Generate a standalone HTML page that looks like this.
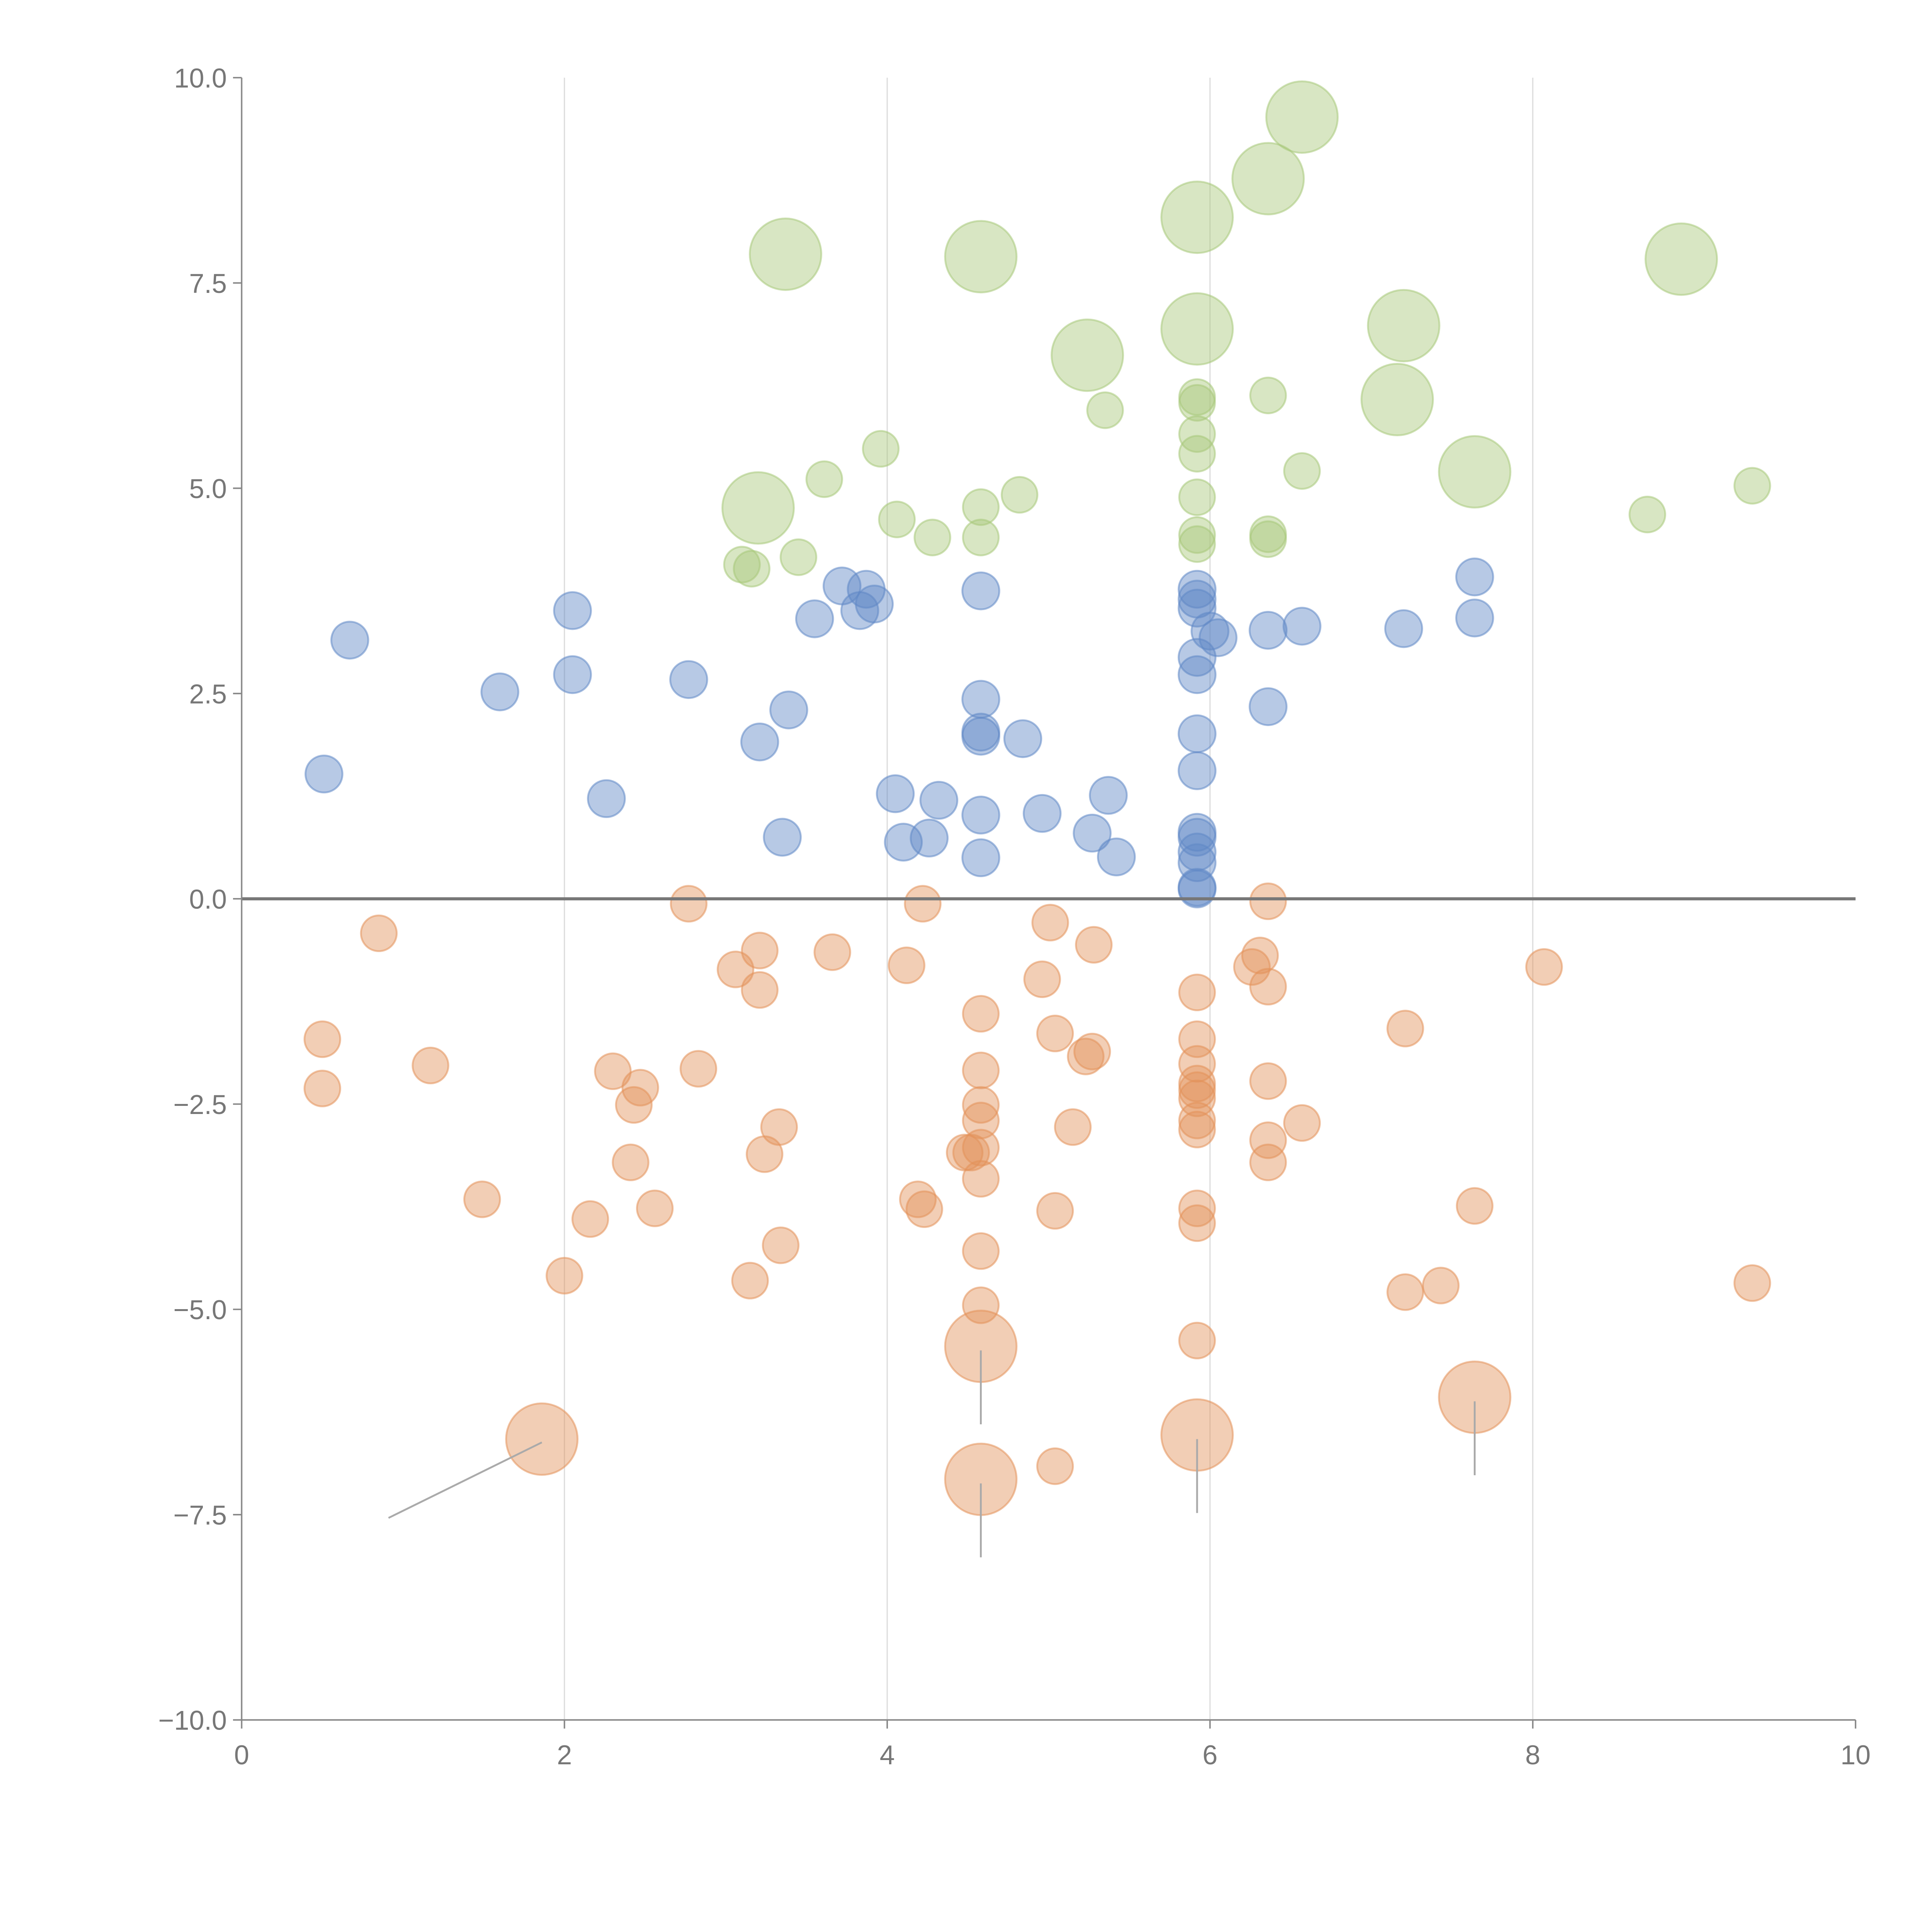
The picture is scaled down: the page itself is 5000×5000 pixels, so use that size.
<!DOCTYPE html>
<html><head><meta charset="utf-8"><style>
html,body{margin:0;padding:0;background:#fff;}
svg{display:block;}
text{font-family:"Liberation Sans",sans-serif;}
</style></head><body>
<svg id="chart" width="5000" height="5000" viewBox="0 0 1567 1567" xmlns="http://www.w3.org/2000/svg"></svg>
<script>
const xTicks=[0,2,4,6,8,10];
const xTickLabels=["0","2","4","6","8","10"];
const yTicks=[10,7.5,5,2.5,0,-2.5,-5,-7.5,-10];
const yTickLabels=["10.0","7.5","5.0","2.5","0.0","\u22122.5","\u22125.0","\u22127.5","\u221210.0"];

const greenBigX=[3.37,4.58,5.92,6.36,6.57,5.24,5.92,7.20,7.16,7.64,8.92,3.20];
const greenBigY=[7.85,7.82,8.30,8.77,9.52,6.62,6.94,6.98,6.08,5.20,7.79,4.76];
const greenX=[3.96,3.61,4.06,4.28,4.58,4.58,4.82,5.35,5.92,5.92,5.92,5.92,5.92,5.92,5.92,6.36,6.57,6.36,6.36,8.71,9.36,3.10,3.16,3.45];
const greenY=[5.48,5.11,4.62,4.40,4.77,4.40,4.92,5.95,6.04,6.11,5.66,5.42,4.89,4.43,4.32,6.13,5.21,4.44,4.38,4.68,5.03,4.07,4.02,4.16];

const blueX=[0.67,0.51,1.60,2.05,2.05,2.26,2.77,3.21,3.39,3.35,3.55,3.72,3.83,3.87,3.92,4.05,4.10,4.26,4.32,4.58,4.58,4.58,4.58,4.58,4.58,4.84,4.96,5.27,5.37,5.42,5.92,5.92,5.92,5.92,5.92,5.92,5.92,5.92,5.92,5.92,5.92,5.92,5.92,6.00,6.05,6.36,6.36,6.57,7.20,7.64,7.64];
const blueY=[3.15,1.52,2.52,3.51,2.73,1.22,2.67,1.91,2.30,0.75,3.41,3.81,3.51,3.77,3.59,1.28,0.69,0.74,1.20,3.75,2.43,2.03,1.98,1.02,0.50,1.95,1.04,0.80,1.26,0.51,3.77,3.65,3.54,2.94,2.73,2.01,1.56,0.81,0.75,0.57,0.44,0.14,0.12,3.26,3.18,3.27,2.34,3.32,3.29,3.92,3.42];

const orangeX=[0.85,0.50,0.50,1.17,1.49,2.00,2.16,2.30,2.47,2.43,2.41,2.56,2.77,2.83,3.06,3.21,3.21,3.15,3.24,3.33,3.34,3.66,4.12,4.22,4.19,4.23,4.48,4.52,4.58,4.58,4.58,4.58,4.58,4.58,4.58,4.58,5.01,4.96,5.04,5.15,5.04,5.23,5.27,5.28,5.04,5.92,5.92,5.92,5.92,5.92,5.92,5.92,5.92,5.92,5.92,5.92,6.26,6.31,6.36,6.36,6.36,6.36,6.36,6.57,7.21,7.21,7.43,7.64,8.07,9.36];
const orangeY=[-0.42,-1.71,-2.31,-2.03,-3.66,-4.59,-3.90,-2.10,-2.30,-2.51,-3.21,-3.77,-0.06,-2.07,-0.86,-0.63,-1.11,-4.65,-3.11,-2.78,-4.22,-0.65,-0.81,-0.06,-3.66,-3.78,-3.09,-3.09,-1.40,-2.09,-2.51,-2.70,-3.03,-3.41,-4.29,-4.95,-0.29,-0.98,-1.64,-2.78,-3.80,-1.92,-1.86,-0.56,-6.91,-1.14,-1.71,-2.01,-2.25,-2.33,-2.43,-2.70,-2.81,-3.77,-3.95,-5.38,-0.83,-0.69,-0.03,-1.07,-2.22,-2.94,-3.21,-2.73,-1.58,-4.79,-4.71,-3.74,-0.83,-4.68];
const orangeBigX=[1.86,4.58,4.58,5.92,7.64];
const orangeBigY=[-6.58,-5.45,-7.07,-6.53,-6.07];
const leaderX1=[1.86,4.58,4.58,5.92,7.64];
const leaderY1=[-6.62,-5.50,-7.12,-6.58,-6.12];
const leaderX2=[0.91,4.58,4.58,5.92,7.64];
const leaderY2=[-7.54,-6.40,-8.02,-7.48,-7.02];

const X0=196,X1=1505,Y0=63,Y1=1395;
function sx(v){return X0+(v-0)/(10-0)*(X1-X0);}
function sy(v){return Y1-(v+10)/20*(Y1-Y0);}
const NS="http://www.w3.org/2000/svg";
const svg=document.getElementById('chart');
function mk(tag,attrs,parent){const e=document.createElementNS(NS,tag);for(const k in attrs)e.setAttribute(k,attrs[k]);(parent||svg).appendChild(e);return e;}

xTicks.forEach((t,i)=>{
  if(t===0||t===10)return;
  const g=mk('line',{x1:sx(t),x2:sx(t),y1:Y0,y2:Y1,stroke:'#dddddd','stroke-width':1});
  
  
});

function drawSeries(xs,ys,r,color,name){
  xs.forEach((x,i)=>{
    const c=mk('circle',{cx:sx(x),cy:sy(ys[i]),r:r,fill:color,'fill-opacity':0.45,stroke:color,'stroke-opacity':0.55,'stroke-width':1.5});
    
    
  });
}
drawSeries(greenX,greenY,14.5,'#a8c87a','green-bubble');
drawSeries(greenBigX,greenBigY,29,'#a8c87a','green-bubble-large');
drawSeries(blueX,blueY,15,'#6088c6','blue-bubble');
drawSeries(orangeX,orangeY,14.5,'#e3925a','orange-bubble');
drawSeries(orangeBigX,orangeBigY,29,'#e3925a','orange-bubble-large');

leaderX1.forEach((x,i)=>{
  const l=mk('line',{x1:sx(x),y1:sy(leaderY1[i]),x2:sx(leaderX2[i]),y2:sy(leaderY2[i]),stroke:'#aaa','stroke-width':1.5});
  
  
});

const z=mk('line',{x1:X0,x2:X1,y1:sy(0),y2:sy(0),stroke:'#777','stroke-width':2.5});



const ya=mk('line',{x1:X0,x2:X0,y1:Y0,y2:Y1,stroke:'#888','stroke-width':1.2});


const xa=mk('line',{x1:X0,x2:X1,y1:Y1,y2:Y1,stroke:'#888','stroke-width':1.2});



yTicks.forEach((t,i)=>{
  const tk=mk('line',{x1:X0-7,x2:X0,y1:sy(t),y2:sy(t),stroke:'#888','stroke-width':1.2});
  
  
  const tx=mk('text',{x:X0-12,y:sy(t)+8,'text-anchor':'end','font-size':22,fill:'#777'});
  tx.textContent=yTickLabels[i];
  
  
});
xTicks.forEach((t,i)=>{
  const tk=mk('line',{x1:sx(t),x2:sx(t),y1:Y1,y2:Y1+7,stroke:'#888','stroke-width':1.2});
  
  
  const tx=mk('text',{x:sx(t),y:Y1+36,'text-anchor':'middle','font-size':22,fill:'#777'});
  tx.textContent=xTickLabels[i];
  
  
});
</script>
</body></html>
